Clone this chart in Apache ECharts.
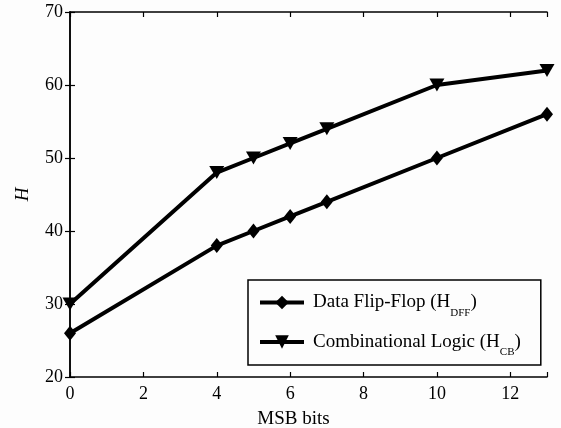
<!DOCTYPE html>
<html>
<head>
<meta charset="utf-8">
<script src="https://cdn.jsdelivr.net/npm/echarts@6/dist/echarts.min.js"></script>
<style>
  html, body { margin: 0; padding: 0; background: #fdfdfd; }
  #chart { width: 561px; height: 428px; }
</style>
</head>
<body>
<div id="chart"></div>
<script>
// MSB bits on the x axis, H on the y axis
const msbBits = [0, 4, 5, 6, 7, 10, 13];
const hDff = [26, 38, 40, 42, 44, 50, 56];
const hCb = [30, 48, 50, 52, 54, 60, 62];
const xTicks = [0, 2, 4, 6, 8, 10, 12];
const yTicks = [20, 30, 40, 50, 60, 70];

const font = 'Liberation Serif';
const chart = echarts.init(document.getElementById('chart'));

const pairs = (xs, ys) => xs.map((x, i) => [x, ys[i]]);

const baseX = {
  type: 'value', min: 0, max: 13, interval: 2,
  axisLine: { show: true, onZero: false, lineStyle: { color: '#000', width: 1.5 } },
  axisTick: { show: true, inside: true, length: 5, lineStyle: { color: '#000', width: 1.2 } },
  splitLine: { show: false }
};
const baseY = {
  type: 'value', min: 20, max: 70, interval: 10,
  axisLine: { show: true, lineStyle: { color: '#000', width: 1.5 } },
  axisTick: { show: true, inside: true, length: 5, lineStyle: { color: '#000', width: 1.2 } },
  splitLine: { show: false }
};

chart.setOption({
  backgroundColor: '#fdfdfd',
  animation: false,
  grid: {
    left: 70, right: 14, top: 12, bottom: 51,
    containLabel: false, outerBoundsMode: 'none'
  },
  xAxis: [
    Object.assign({}, baseX, {
      position: 'bottom',
      name: 'MSB bits', nameLocation: 'middle', nameGap: 33,
      nameTextStyle: { fontFamily: font, fontSize: 19, color: '#000', padding: [0, 30, 0, 0] },
      axisLabel: {
        fontFamily: font, fontSize: 18, color: '#000', margin: 8,
        formatter: v => (xTicks.includes(v) ? String(v) : '')
      }
    }),
    Object.assign({}, baseX, { position: 'top', axisLabel: { show: false } })
  ],
  yAxis: [
    Object.assign({}, baseY, {
      position: 'left',
      name: 'H', nameLocation: 'middle', nameGap: 38, nameRotate: 90,
      nameTextStyle: { fontFamily: font, fontSize: 19, fontStyle: 'italic', color: '#000' },
      axisLabel: {
        fontFamily: font, fontSize: 18, color: '#000', margin: 7,
        formatter: v => (yTicks.includes(v) ? String(v) : '')
      }
    }),
    Object.assign({}, baseY, { position: 'right', axisLabel: { show: false } })
  ],
  legend: {
    orient: 'vertical',
    left: 248, top: 280,
    padding: [13, 20, 7, 10],
    itemGap: 14,
    itemWidth: 44, itemHeight: 17,
    borderColor: '#000', borderWidth: 1.5, borderRadius: 0,
    backgroundColor: '#fdfdfd',
    lineStyle: { width: 4, color: '#000' },
    data: ['dff', 'cb'],
    formatter: name => name === 'dff'
      ? '{t|Data Flip-Flop (H}{s|DFF}{t|)}'
      : '{t|Combinational Logic (H}{s|CB}{t|)}',
    textStyle: {
      color: '#000', fontFamily: font, fontSize: 19,
      padding: [0, 0, 0, 4],
      rich: {
        t: { fontFamily: font, fontSize: 19, color: '#000', lineHeight: 24 },
        s: { fontFamily: font, fontSize: 11, color: '#000', lineHeight: 24, verticalAlign: 'bottom', padding: [0, 0, -4, 0] }
      }
    }
  },
  series: [
    {
      name: 'dff', type: 'line', data: pairs(msbBits, hDff),
      xAxisIndex: 0, yAxisIndex: 0,
      symbol: 'diamond', symbolSize: [12, 15],
      lineStyle: { color: '#000', width: 4 },
      itemStyle: { color: '#000' },
      clip: false
    },
    {
      name: 'cb', type: 'line', data: pairs(msbBits, hCb),
      xAxisIndex: 0, yAxisIndex: 0,
      symbol: 'triangle', symbolRotate: 180, symbolSize: [15, 13],
      lineStyle: { color: '#000', width: 4 },
      itemStyle: { color: '#000' },
      clip: false
    }
  ]
});
</script>
</body>
</html>
